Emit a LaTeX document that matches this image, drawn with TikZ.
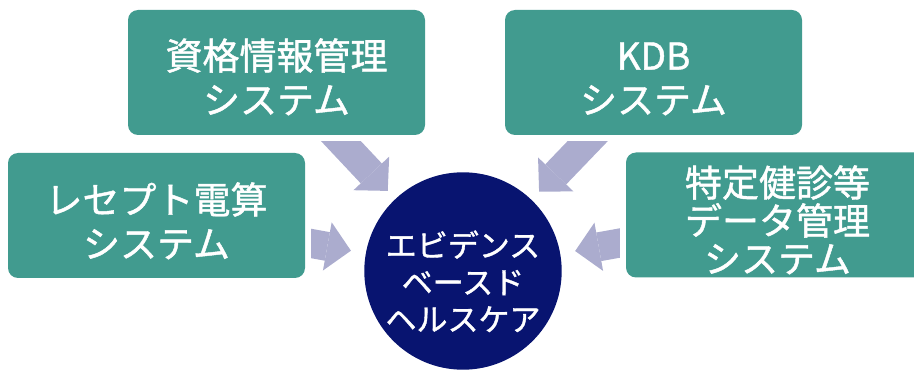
\documentclass[tikz,border=0pt]{standalone}
\usepackage{fontspec}
\setmainfont{Noto Sans CJK JP}[FakeBold=1.2]
\usetikzlibrary{arrows.meta,calc}
\definecolor{sysgreen}{RGB}{65,155,143}
\definecolor{hubblue}{RGB}{8,20,112}
\definecolor{feedgray}{RGB}{171,172,206}

\begin{document}
\begin{tikzpicture}[x=1pt,y=1pt,
  sysbox/.style={rectangle, rounded corners=10pt, fill=sysgreen, text=white, inner sep=0pt,
    minimum width=297pt, minimum height=125pt, align=center, font=\fontsize{37}{44}\selectfont},
  feed/.style={draw=feedgray, line width=29pt, -{Triangle[width=49pt,length=24pt,line width=0pt]}, shorten <=-15pt}]
\useasboundingbox (0,0) rectangle (914,370);
\node[sysbox] (shikaku) at (276.5,297.5) {\rule{0pt}{40pt}資格情報管理\\システム};
\node[sysbox] (kdb) at (653.5,297.5) {\rule{0pt}{40pt}KDB\\システム};
\node[sysbox] (rezept) at (156.5,154.5) {\rule{0pt}{42pt}レセプト電算\\システム};
\node[sysbox, minimum width=303pt, font=\fontsize{37}{38}\selectfont] (tokutei) at (777.5,155) {\rule{0pt}{41pt}特定健診等\\データ管理\\システム};
\node[circle, fill=hubblue, text=white, minimum size=196pt, inner sep=0pt, align=center,
  font=\fontsize{31}{37}\selectfont] (hub) at (463,99) {\rule{0pt}{47pt}エビデンス\\ベースド\\ヘルスケア};
\begin{scope}
  \clip (0,0) rectangle (914,370)
    ([shift={(-6,6)}]shikaku.north west) rectangle ([shift={(6,-6)}]shikaku.south east)
    ([shift={(-6,6)}]kdb.north west) rectangle ([shift={(6,-6)}]kdb.south east)
    ([shift={(-6,6)}]rezept.north west) rectangle ([shift={(6,-6)}]rezept.south east)
    ([shift={(-6,6)}]tokutei.north west) rectangle ([shift={(6,-6)}]tokutei.south east);
  \draw[feed, shorten >=11pt] (shikaku) -- (hub);
  \draw[feed, shorten >=11pt] (kdb) -- (hub);
  \draw[feed, shorten >=15pt] (rezept) -- (hub);
  \draw[feed, shorten >=15pt] (tokutei) -- (hub);
\end{scope}
\end{tikzpicture}
\end{document}
